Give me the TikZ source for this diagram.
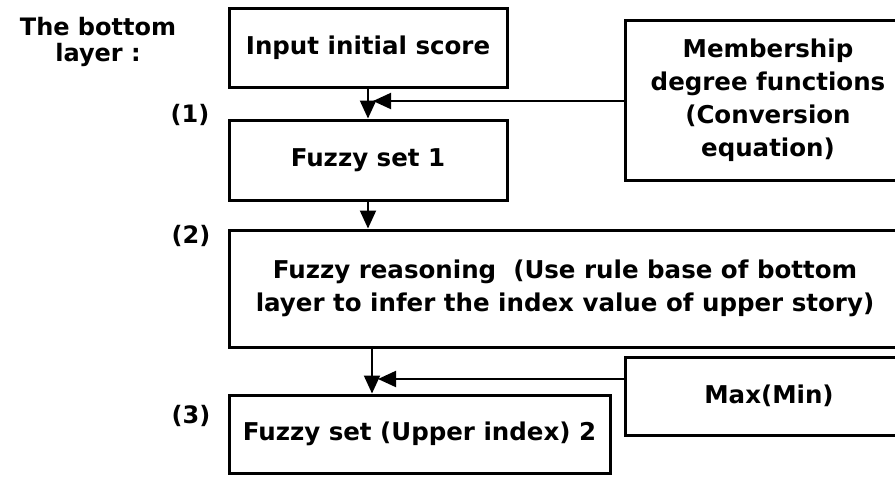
\documentclass[tikz,border=0pt]{standalone}
\usepackage{fontspec}
\setmainfont{DejaVu Sans}
\usetikzlibrary{arrows.meta}
\begin{document}
\begin{tikzpicture}[x=1pt,y=-1pt,
  box/.style={draw, line width=3pt, inner sep=0pt, align=center, font=\bfseries\fontsize{24.5}{33}\selectfont},
  lbl/.style={inner sep=0pt, align=center, font=\bfseries\fontsize{24}{26}\selectfont},
  arr/.style={line width=2pt, -{Triangle[length=18pt,width=16pt]}}]
\useasboundingbox (0,0) rectangle (895,477);
\clip (0,0) rectangle (895,477);
\node[box, minimum width=278, minimum height=79] (b1) at (368,47.5) {Input initial score};
\node[box, minimum width=278, minimum height=80] (b2) at (368,160) {Fuzzy set 1};
\node[box, minimum width=286, minimum height=160] (mem) at (768,100) {Membership\\degree functions\\(Conversion\\equation)};
\node[box, minimum width=672, minimum height=117] (reason) at (565,288.5) {Fuzzy reasoning \ (Use rule base of bottom\\layer to infer the index value of upper story)};
\node[box, minimum width=381, minimum height=78] (b3) at (419.5,434) {Fuzzy set (Upper index) 2};
\node[box, minimum width=288, minimum height=78] (mx) at (769,396) {Max(Min)};
\node[lbl] (title) at (98,42) {The bottom\\layer :};
\node[lbl] (l1) at (190,115) {(1)};
\node[lbl] (l2) at (191,236) {(2)};
\node[lbl] (l3) at (191,416) {(3)};
\coordinate (t1) at (373,101);
\coordinate (t2) at (378,379);
\coordinate (v2) at (372,0);
\draw[arr] (b1) -- (b2);
\draw[arr] (mem.west |- t1) -- (t1);
\draw[arr] (b2) -- (b2 |- reason.north);
\draw[arr] (reason.south -| v2) -- (b3.north -| v2);
\draw[arr] (mx.west |- t2) -- (t2);
\end{tikzpicture}
\end{document}
